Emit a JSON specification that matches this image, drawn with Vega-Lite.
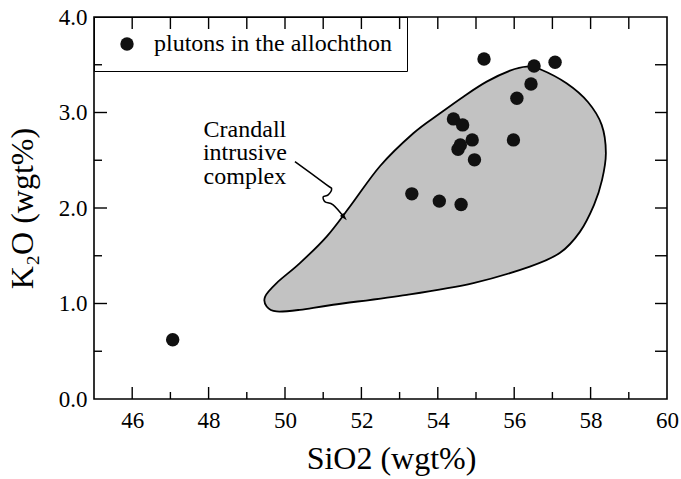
{
  "$schema": "https://vega.github.io/schema/vega-lite/v6.json",
  "width": 573,
  "height": 382,
  "autosize": {"type": "none"},
  "padding": {"left": 94, "top": 17, "right": 14, "bottom": 80},
  "background": "white",
  "config": {
    "view": {"stroke": "black", "strokeWidth": 1.6},
    "font": "Liberation Serif",
    "axis": {
      "grid": false,
      "domain": false,
      "ticks": false,
      "labelColor": "black",
      "titleColor": "black",
      "labelFont": "Liberation Serif",
      "titleFont": "Liberation Serif",
      "labelFontSize": 23,
      "titleFontSize": 32,
      "titleFontWeight": "normal"
    },
    "legend": {
      "orient": "top-left",
      "offset": 0,
      "padding": 15,
      "strokeColor": "black",
      "symbolOffset": 6,
      "labelOffset": 15,
      "labelLimit": 0,
      "labelFont": "Liberation Serif",
      "labelFontSize": 24,
      "labelColor": "black",
      "symbolSize": 180,
      "symbolType": "circle",
      "symbolStrokeWidth": 0
    }
  },
  "datasets": {
    "field": [
      {"i": 1, "x": 49.48, "y": 1.073},
      {"i": 2, "x": 49.78, "y": 1.214},
      {"i": 3, "x": 50.39, "y": 1.423},
      {"i": 4, "x": 51.09, "y": 1.701},
      {"i": 5, "x": 51.70, "y": 2.015},
      {"i": 6, "x": 52.49, "y": 2.44},
      {"i": 7, "x": 53.36, "y": 2.783},
      {"i": 8, "x": 54.06, "y": 2.992},
      {"i": 9, "x": 54.67, "y": 3.166},
      {"i": 10, "x": 55.28, "y": 3.323},
      {"i": 11, "x": 55.89, "y": 3.438},
      {"i": 12, "x": 56.33, "y": 3.48},
      {"i": 13, "x": 56.68, "y": 3.453},
      {"i": 14, "x": 57.37, "y": 3.306},
      {"i": 15, "x": 57.93, "y": 3.11},
      {"i": 16, "x": 58.29, "y": 2.87},
      {"i": 17, "x": 58.40, "y": 2.577},
      {"i": 18, "x": 58.30, "y": 2.294},
      {"i": 19, "x": 58.09, "y": 2.033},
      {"i": 20, "x": 57.72, "y": 1.75},
      {"i": 21, "x": 57.20, "y": 1.531},
      {"i": 22, "x": 56.41, "y": 1.387},
      {"i": 23, "x": 54.93, "y": 1.214},
      {"i": 24, "x": 53.19, "y": 1.091},
      {"i": 25, "x": 51.26, "y": 0.987},
      {"i": 26, "x": 50.39, "y": 0.934},
      {"i": 27, "x": 49.78, "y": 0.917},
      {"i": 28, "x": 49.52, "y": 0.969}
    ],
    "arrow": [
      {"i": 1, "x": 50.26, "y": 2.486},
      {"i": 2, "x": 51.09, "y": 2.242},
      {"i": 3, "x": 51.22, "y": 2.2},
      {"i": 4, "x": 51.13, "y": 2.137},
      {"i": 5, "x": 51.0, "y": 2.117},
      {"i": 6, "x": 51.05, "y": 2.064},
      {"i": 7, "x": 51.26, "y": 2.033},
      {"i": 8, "x": 51.55, "y": 1.902}
    ],
    "head": [
      {"x": 51.55, "y": 1.902}
    ],
    "label": [
      {"x": 48.95, "y": 2.818, "text": "Crandall\nintrusive\ncomplex"}
    ],
    "xticks": [
      {"v": 46, "kind": "major"}, {"v": 47, "kind": "minor"}, {"v": 48, "kind": "major"},
      {"v": 49, "kind": "minor"}, {"v": 50, "kind": "major"}, {"v": 51, "kind": "minor"},
      {"v": 52, "kind": "major"}, {"v": 53, "kind": "minor"}, {"v": 54, "kind": "major"},
      {"v": 55, "kind": "minor"}, {"v": 56, "kind": "major"}, {"v": 57, "kind": "minor"},
      {"v": 58, "kind": "major"}, {"v": 59, "kind": "minor"}
    ],
    "yticks": [
      {"v": 0.5, "kind": "minor"}, {"v": 1, "kind": "major"}, {"v": 1.5, "kind": "minor"},
      {"v": 2, "kind": "major"}, {"v": 2.5, "kind": "minor"}, {"v": 3, "kind": "major"},
      {"v": 3.5, "kind": "minor"}
    ],
    "plutons": [
      {"x": 55.21, "y": 3.56, "group": "plutons in the allochthon"},
      {"x": 56.52, "y": 3.487, "group": "plutons in the allochthon"},
      {"x": 57.07, "y": 3.526, "group": "plutons in the allochthon"},
      {"x": 56.44, "y": 3.299, "group": "plutons in the allochthon"},
      {"x": 56.07, "y": 3.149, "group": "plutons in the allochthon"},
      {"x": 54.41, "y": 2.933, "group": "plutons in the allochthon"},
      {"x": 54.65, "y": 2.87, "group": "plutons in the allochthon"},
      {"x": 54.9, "y": 2.713, "group": "plutons in the allochthon"},
      {"x": 54.53, "y": 2.615, "group": "plutons in the allochthon"},
      {"x": 54.59, "y": 2.66, "group": "plutons in the allochthon"},
      {"x": 55.98, "y": 2.713, "group": "plutons in the allochthon"},
      {"x": 54.96, "y": 2.504, "group": "plutons in the allochthon"},
      {"x": 53.32, "y": 2.148, "group": "plutons in the allochthon"},
      {"x": 54.04, "y": 2.072, "group": "plutons in the allochthon"},
      {"x": 54.61, "y": 2.036, "group": "plutons in the allochthon"},
      {"x": 47.06, "y": 0.62, "group": "plutons in the allochthon"}
    ]
  },
  "layer": [
    {
      "data": {"name": "field"},
      "mark": {"type": "line", "interpolate": "cardinal-closed", "fill": "#c2c2c2", "stroke": "black", "strokeWidth": 1.8},
      "encoding": {
        "x": {"field": "x", "type": "quantitative", "scale": {"domain": [45, 60], "nice": false, "zero": false},
          "axis": {"orient": "bottom", "values": [46, 48, 50, 52, 54, 56, 58, 60], "ticks": false, "labelPadding": 10, "labelFlush": false, "title": "SiO2 (wgt%)", "titleX": 297, "titleY": 59, "titleBaseline": "middle", "titleAlign": "center"}},
        "y": {"field": "y", "type": "quantitative", "scale": {"domain": [0, 4], "nice": false, "zero": false},
          "axis": {"orient": "left", "values": [0, 1, 2, 3, 4], "format": ".1f", "ticks": false, "labelPadding": 7, "title": "K₂O (wgt%)", "titleX": -72, "titleY": 191, "titleAngle": -90, "titleBaseline": "middle", "titleAlign": "center"}},
        "order": {"field": "i", "type": "quantitative"}
      }
    },
    {
      "data": {"name": "xticks"},
      "transform": [{"filter": "datum.kind == 'major'"}],
      "mark": {"type": "tick", "orient": "vertical", "size": 12, "thickness": 1.4, "yOffset": -6, "color": "black", "opacity": 1},
      "encoding": {
        "x": {"field": "v", "type": "quantitative",
          "axis": {"orient": "bottom", "values": [46, 48, 50, 52, 54, 56, 58, 60], "ticks": false, "labelPadding": 10, "labelFlush": false, "title": "SiO2 (wgt%)", "titleX": 297, "titleY": 59, "titleBaseline": "middle", "titleAlign": "center"}},
        "y": {"datum": 0, "type": "quantitative",
          "axis": {"orient": "left", "values": [0, 1, 2, 3, 4], "format": ".1f", "ticks": false, "labelPadding": 7, "title": "K₂O (wgt%)", "titleX": -72, "titleY": 191, "titleAngle": -90, "titleBaseline": "middle", "titleAlign": "center"}}
      }
    },
    {
      "data": {"name": "xticks"},
      "transform": [{"filter": "datum.kind == 'minor'"}],
      "mark": {"type": "tick", "orient": "vertical", "size": 7, "thickness": 1.4, "yOffset": -3.5, "color": "black", "opacity": 1},
      "encoding": {
        "x": {"field": "v", "type": "quantitative",
          "axis": {"orient": "bottom", "values": [46, 48, 50, 52, 54, 56, 58, 60], "ticks": false, "labelPadding": 10, "labelFlush": false, "title": "SiO2 (wgt%)", "titleX": 297, "titleY": 59, "titleBaseline": "middle", "titleAlign": "center"}},
        "y": {"datum": 0, "type": "quantitative",
          "axis": {"orient": "left", "values": [0, 1, 2, 3, 4], "format": ".1f", "ticks": false, "labelPadding": 7, "title": "K₂O (wgt%)", "titleX": -72, "titleY": 191, "titleAngle": -90, "titleBaseline": "middle", "titleAlign": "center"}}
      }
    },
    {
      "data": {"name": "xticks"},
      "mark": {"type": "tick", "orient": "vertical", "size": 12, "thickness": 1.4, "yOffset": 6, "color": "black", "opacity": 1},
      "encoding": {
        "x": {"field": "v", "type": "quantitative",
          "axis": {"orient": "bottom", "values": [46, 48, 50, 52, 54, 56, 58, 60], "ticks": false, "labelPadding": 10, "labelFlush": false, "title": "SiO2 (wgt%)", "titleX": 297, "titleY": 59, "titleBaseline": "middle", "titleAlign": "center"}},
        "y": {"datum": 4, "type": "quantitative",
          "axis": {"orient": "left", "values": [0, 1, 2, 3, 4], "format": ".1f", "ticks": false, "labelPadding": 7, "title": "K₂O (wgt%)", "titleX": -72, "titleY": 191, "titleAngle": -90, "titleBaseline": "middle", "titleAlign": "center"}}
      }
    },
    {
      "data": {"name": "yticks"},
      "transform": [{"filter": "datum.kind == 'major'"}],
      "mark": {"type": "tick", "orient": "horizontal", "size": 13, "thickness": 1.4, "xOffset": 6.5, "color": "black", "opacity": 1},
      "encoding": {
        "y": {"field": "v", "type": "quantitative",
          "axis": {"orient": "left", "values": [0, 1, 2, 3, 4], "format": ".1f", "ticks": false, "labelPadding": 7, "title": "K₂O (wgt%)", "titleX": -72, "titleY": 191, "titleAngle": -90, "titleBaseline": "middle", "titleAlign": "center"}},
        "x": {"datum": 45, "type": "quantitative",
          "axis": {"orient": "bottom", "values": [46, 48, 50, 52, 54, 56, 58, 60], "ticks": false, "labelPadding": 10, "labelFlush": false, "title": "SiO2 (wgt%)", "titleX": 297, "titleY": 59, "titleBaseline": "middle", "titleAlign": "center"}}
      }
    },
    {
      "data": {"name": "yticks"},
      "transform": [{"filter": "datum.kind == 'minor'"}],
      "mark": {"type": "tick", "orient": "horizontal", "size": 8, "thickness": 1.4, "xOffset": 4, "color": "black", "opacity": 1},
      "encoding": {
        "y": {"field": "v", "type": "quantitative",
          "axis": {"orient": "left", "values": [0, 1, 2, 3, 4], "format": ".1f", "ticks": false, "labelPadding": 7, "title": "K₂O (wgt%)", "titleX": -72, "titleY": 191, "titleAngle": -90, "titleBaseline": "middle", "titleAlign": "center"}},
        "x": {"datum": 45, "type": "quantitative",
          "axis": {"orient": "bottom", "values": [46, 48, 50, 52, 54, 56, 58, 60], "ticks": false, "labelPadding": 10, "labelFlush": false, "title": "SiO2 (wgt%)", "titleX": 297, "titleY": 59, "titleBaseline": "middle", "titleAlign": "center"}}
      }
    },
    {
      "data": {"name": "yticks"},
      "mark": {"type": "tick", "orient": "horizontal", "size": 12, "thickness": 1.4, "xOffset": -6, "color": "black", "opacity": 1},
      "encoding": {
        "y": {"field": "v", "type": "quantitative",
          "axis": {"orient": "left", "values": [0, 1, 2, 3, 4], "format": ".1f", "ticks": false, "labelPadding": 7, "title": "K₂O (wgt%)", "titleX": -72, "titleY": 191, "titleAngle": -90, "titleBaseline": "middle", "titleAlign": "center"}},
        "x": {"datum": 60, "type": "quantitative",
          "axis": {"orient": "bottom", "values": [46, 48, 50, 52, 54, 56, 58, 60], "ticks": false, "labelPadding": 10, "labelFlush": false, "title": "SiO2 (wgt%)", "titleX": 297, "titleY": 59, "titleBaseline": "middle", "titleAlign": "center"}}
      }
    },
    {
      "data": {"name": "arrow"},
      "mark": {"type": "line", "interpolate": "cardinal", "stroke": "black", "strokeWidth": 1.5},
      "encoding": {
        "x": {"field": "x", "type": "quantitative",
          "axis": {"orient": "bottom", "values": [46, 48, 50, 52, 54, 56, 58, 60], "ticks": false, "labelPadding": 10, "labelFlush": false, "title": "SiO2 (wgt%)", "titleX": 297, "titleY": 59, "titleBaseline": "middle", "titleAlign": "center"}},
        "y": {"field": "y", "type": "quantitative",
          "axis": {"orient": "left", "values": [0, 1, 2, 3, 4], "format": ".1f", "ticks": false, "labelPadding": 7, "title": "K₂O (wgt%)", "titleX": -72, "titleY": 191, "titleAngle": -90, "titleBaseline": "middle", "titleAlign": "center"}},
        "order": {"field": "i", "type": "quantitative"}
      }
    },
    {
      "data": {"name": "head"},
      "mark": {"type": "point", "shape": "M0,-1L0.6,1L-0.6,1Z", "filled": true, "color": "black", "size": 60, "angle": 138, "opacity": 1},
      "encoding": {
        "x": {"field": "x", "type": "quantitative",
          "axis": {"orient": "bottom", "values": [46, 48, 50, 52, 54, 56, 58, 60], "ticks": false, "labelPadding": 10, "labelFlush": false, "title": "SiO2 (wgt%)", "titleX": 297, "titleY": 59, "titleBaseline": "middle", "titleAlign": "center"}},
        "y": {"field": "y", "type": "quantitative",
          "axis": {"orient": "left", "values": [0, 1, 2, 3, 4], "format": ".1f", "ticks": false, "labelPadding": 7, "title": "K₂O (wgt%)", "titleX": -72, "titleY": 191, "titleAngle": -90, "titleBaseline": "middle", "titleAlign": "center"}}
      }
    },
    {
      "data": {"name": "label"},
      "mark": {"type": "text", "lineBreak": "\n", "fontSize": 24, "font": "Liberation Serif", "align": "center", "baseline": "middle", "lineHeight": 23.5, "color": "black"},
      "encoding": {
        "x": {"field": "x", "type": "quantitative",
          "axis": {"orient": "bottom", "values": [46, 48, 50, 52, 54, 56, 58, 60], "ticks": false, "labelPadding": 10, "labelFlush": false, "title": "SiO2 (wgt%)", "titleX": 297, "titleY": 59, "titleBaseline": "middle", "titleAlign": "center"}},
        "y": {"field": "y", "type": "quantitative",
          "axis": {"orient": "left", "values": [0, 1, 2, 3, 4], "format": ".1f", "ticks": false, "labelPadding": 7, "title": "K₂O (wgt%)", "titleX": -72, "titleY": 191, "titleAngle": -90, "titleBaseline": "middle", "titleAlign": "center"}},
        "text": {"field": "text"}
      }
    },
    {
      "data": {"name": "plutons"},
      "mark": {"type": "point", "filled": true, "size": 180, "opacity": 1},
      "encoding": {
        "x": {"field": "x", "type": "quantitative",
          "axis": {"orient": "bottom", "values": [46, 48, 50, 52, 54, 56, 58, 60], "ticks": false, "labelPadding": 10, "labelFlush": false, "title": "SiO2 (wgt%)", "titleX": 297, "titleY": 59, "titleBaseline": "middle", "titleAlign": "center"}},
        "y": {"field": "y", "type": "quantitative",
          "axis": {"orient": "left", "values": [0, 1, 2, 3, 4], "format": ".1f", "ticks": false, "labelPadding": 7, "title": "K₂O (wgt%)", "titleX": -72, "titleY": 191, "titleAngle": -90, "titleBaseline": "middle", "titleAlign": "center"}},
        "color": {"field": "group", "type": "nominal", "scale": {"range": ["#111111"]}, "legend": {"title": null}}
      }
    }
  ]
}
